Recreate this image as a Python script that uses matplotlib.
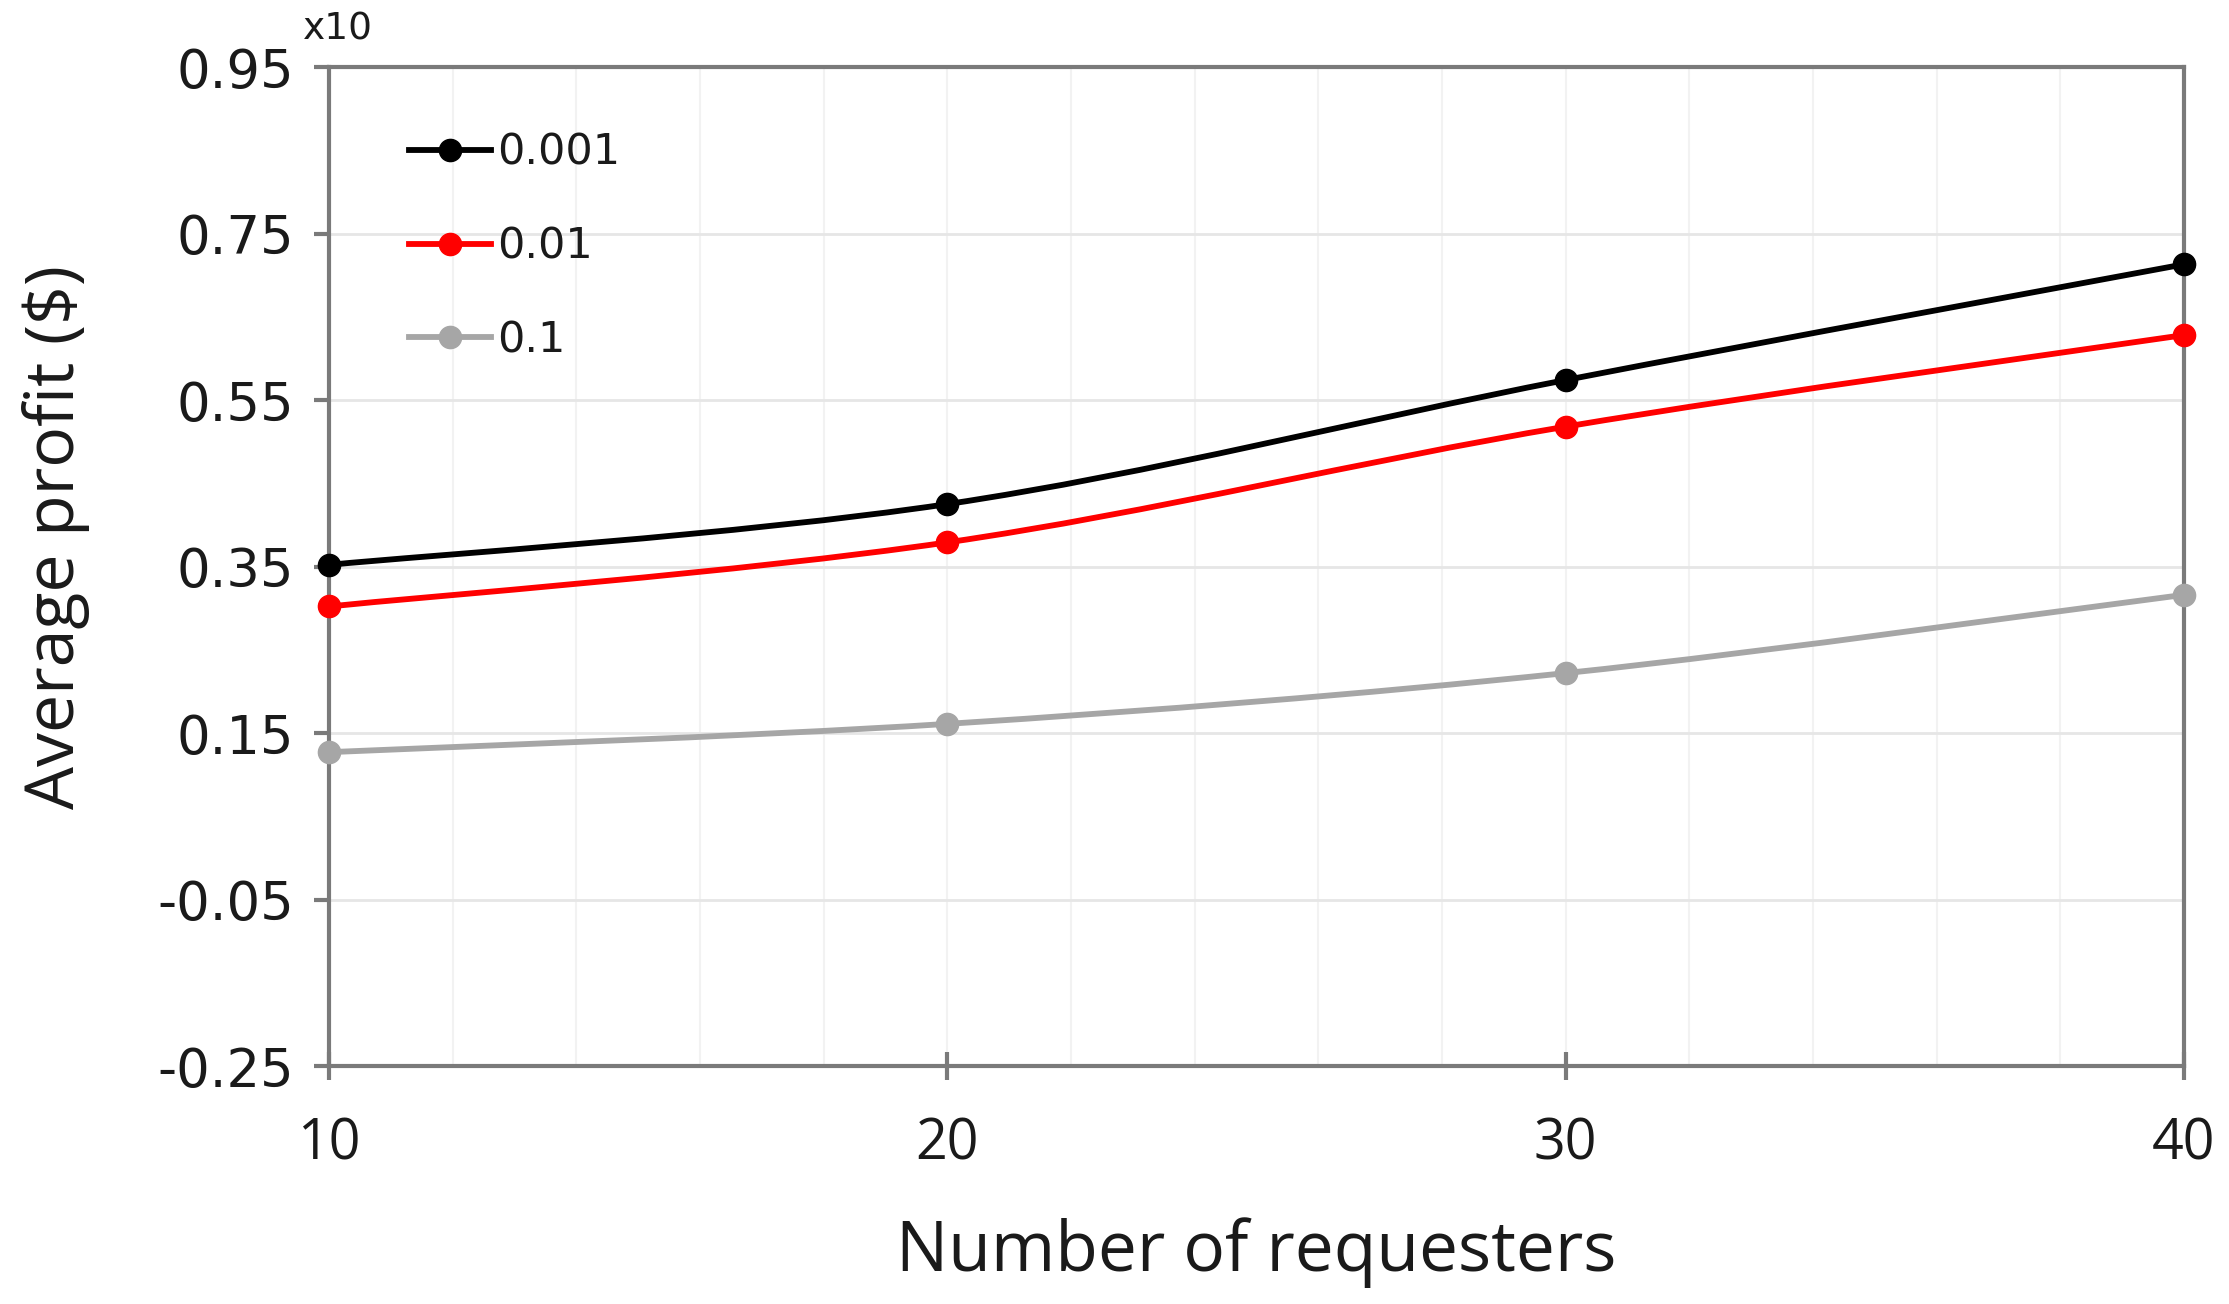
import matplotlib.pyplot as plt
from matplotlib.path import Path
from matplotlib.patches import PathPatch
from matplotlib.lines import Line2D
from matplotlib.ticker import MultipleLocator, FormatStrFormatter

requesters = [10, 20, 30, 40]
profit_0001 = [0.352, 0.425, 0.574, 0.713]
profit_001 = [0.302, 0.379, 0.518, 0.628]
profit_01 = [0.127, 0.161, 0.222, 0.316]
series_labels = ['0.001', '0.01', '0.1']
series_colors = ['black', '#ff0000', '#a6a6a6']


def smooth_path(xs, ys):
    # excel-like smoothed line: catmull-rom turned into cubic beziers
    pts = list(zip(xs, ys))
    verts = [pts[0]]
    codes = [Path.MOVETO]
    n = len(pts)
    for i in range(n - 1):
        p0 = pts[max(i - 1, 0)]
        p1 = pts[i]
        p2 = pts[i + 1]
        p3 = pts[min(i + 2, n - 1)]
        c1 = (p1[0] + (p2[0] - p0[0]) / 6, p1[1] + (p2[1] - p0[1]) / 6)
        c2 = (p2[0] - (p3[0] - p1[0]) / 6, p2[1] - (p3[1] - p1[1]) / 6)
        verts += [c1, c2, p2]
        codes += [Path.CURVE4] * 3
    return Path(verts, codes)


fig = plt.figure(figsize=(22.29, 13.04), dpi=100)
ax = fig.add_axes([0.1476, 0.1825, 0.8322, 0.7661])

lw = 4.2
ms = 16
handles = []
for ys, lab, col in zip([profit_0001, profit_001, profit_01], series_labels, series_colors):
    ax.add_patch(PathPatch(smooth_path(requesters, ys), facecolor='none',
                           edgecolor=col, lw=lw, zorder=3))
    ax.plot(requesters, ys, 'o', color=col, markersize=ms, zorder=4, clip_on=False)
    handles.append(Line2D([], [], color=col, lw=lw, marker='o', markersize=ms))

ax.set_xlim(10, 40)
ax.set_ylim(-0.25, 0.95)
ax.xaxis.set_major_locator(MultipleLocator(10))
ax.xaxis.set_minor_locator(MultipleLocator(2))
ax.set_yticks([0.95, 0.75, 0.55, 0.35, 0.15, -0.05, -0.25])
ax.yaxis.set_major_formatter(FormatStrFormatter('%.2f'))

ax.grid(True, which='major', axis='y', color='#e6e6e6', lw=2)
ax.grid(True, which='minor', axis='x', color='#f2f2f2', lw=1.5)
ax.grid(True, which='major', axis='x', color='#f2f2f2', lw=1.5)
ax.set_axisbelow(True)

for s in ax.spines.values():
    s.set_color('#7a7a7a')
    s.set_linewidth(3)

ax.tick_params(axis='y', direction='out', length=11, width=3, color='#7a7a7a',
               labelsize=38, pad=14, labelfontfamily='DejaVu Sans',
               labelcolor='#1a1a1a')
ax.tick_params(axis='x', which='major', direction='inout', length=20, width=3,
               color='#7a7a7a', labelsize=40, pad=26, labelfontfamily='Open Sans',
               labelcolor='#1a1a1a')
ax.tick_params(axis='x', which='minor', length=0)

ax.set_xlabel('Number of requesters', fontsize=50, family='Open Sans', labelpad=32,
              color='#1a1a1a')
ax.set_ylabel('Average profit ($)', fontsize=49, family='Open Sans',
              color='#1a1a1a')
ax.yaxis.set_label_coords(-0.129, 0.53)

ax.text(-0.014, 1.02, 'x10', transform=ax.transAxes, fontsize=27,
        family='DejaVu Sans', ha='left', va='bottom', color='#1a1a1a')

ax.legend(handles, series_labels, loc='upper left', bbox_to_anchor=(0.043, 0.935),
          frameon=False, handlelength=1.9, handletextpad=0.15,
          labelspacing=1.2, borderpad=0, borderaxespad=0,
          prop={'family': 'DejaVu Sans', 'size': 31}, labelcolor='#1a1a1a')

fig.savefig('out.png', dpi=100)
